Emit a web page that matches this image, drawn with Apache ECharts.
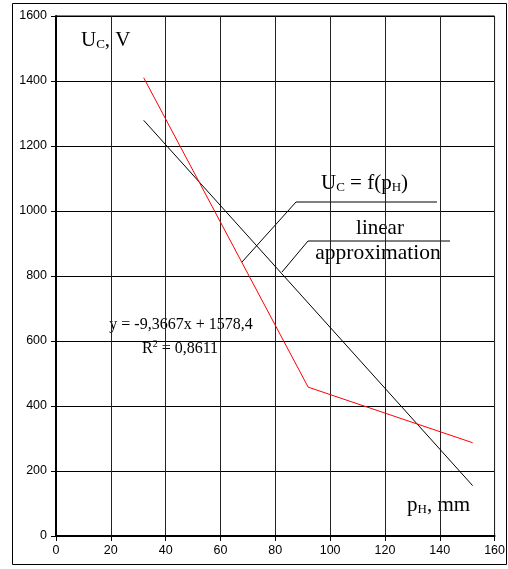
<!DOCTYPE html>
<html><head><meta charset="utf-8">
<script src="https://cdn.jsdelivr.net/npm/echarts@6/dist/echarts.min.js"></script>
<style>html,body{margin:0;padding:0;background:#fff}#c{width:508px;height:569px}</style>
</head><body><div id="c"></div>
<script>
const xTicks = [0, 20, 40, 60, 80, 100, 120, 140, 160];
const yTicks = [0, 200, 400, 600, 800, 1000, 1200, 1400, 1600];
const measuredX = [32, 92, 152];
const measuredY = [1410, 458, 287];
const linearX = [32, 152];
const linearY = [1279, 155];

const serif = '"Liberation Serif","Times New Roman",serif';
const sans = '"Liberation Sans",Arial,sans-serif';
const chart = echarts.init(document.getElementById('c'), null, {renderer: 'canvas'});
chart.setOption({
  animation: false,
  backgroundColor: '#fff',
  grid: {left: 56, right: 12, top: 16, bottom: 33, show: true, borderColor: '#000', borderWidth: 1},
  xAxis: {
    type: 'value', min: xTicks[0], max: xTicks[xTicks.length - 1], interval: 20,
    axisLine: {lineStyle: {color: '#000', width: 2}},
    axisTick: {show: true, length: 5, lineStyle: {color: '#000'}},
    axisLabel: {color: '#000', fontSize: 12.5, fontFamily: sans, margin: 8, formatter: v => String(v)},
    splitLine: {show: true, lineStyle: {color: '#222', width: 1}}
  },
  yAxis: {
    type: 'value', min: yTicks[0], max: yTicks[yTicks.length - 1], interval: 200,
    axisLine: {show: true, lineStyle: {color: '#000', width: 2}},
    axisTick: {show: true, length: 5, lineStyle: {color: '#000'}},
    axisLabel: {color: '#000', fontSize: 12.5, fontFamily: sans, margin: 9, formatter: v => String(v)},
    splitLine: {show: true, lineStyle: {color: '#000', width: 1}}
  },
  series: [
    {type: 'line', data: measuredX.map((x, i) => [x, measuredY[i]]), symbol: 'none',
     lineStyle: {color: '#ff0000', width: 1}, z: 3},
    {type: 'line', data: linearX.map((x, i) => [x, linearY[i]]), symbol: 'none',
     lineStyle: {color: '#000', width: 1}, z: 2}
  ],
  graphic: [
    {type: 'rect', shape: {x: 12.5, y: 3.5, width: 494, height: 561}, style: {fill: null, stroke: '#000', lineWidth: 1}, z: -1, silent: true},
    {type: 'text', left: 81, top: 30, style: {rich: {b: {fontFamily: serif, fontSize: 21, fill: '#000'}, s: {fontFamily: serif, fontSize: 13, fill: '#000', padding: [8, 0, 0, 0]}}, text: '{b|U}{s|C}{b|, V}'}},
    {type: 'text', left: 321, top: 173, style: {rich: {b: {fontFamily: serif, fontSize: 21, fill: '#000'}, s: {fontFamily: serif, fontSize: 13, fill: '#000', padding: [8, 0, 0, 0]}}, text: '{b|U}{s|C}{b| = f(p}{s|H}{b|)}'}},
    {type: 'polyline', shape: {points: [[242, 262], [296, 202], [437, 202]]}, style: {stroke: '#000', lineWidth: 1, fill: null}},
    {type: 'text', x: 380, y: 228, style: {text: 'linear', fontFamily: serif, fontSize: 21, fill: '#000', align: 'center', verticalAlign: 'middle'}},
    {type: 'polyline', shape: {points: [[282, 272], [308, 241], [450, 241]]}, style: {stroke: '#000', lineWidth: 1, fill: null}},
    {type: 'text', x: 378, y: 253, style: {text: 'approximation', fontFamily: serif, fontSize: 21.5, fill: '#000', align: 'center', verticalAlign: 'middle'}},
    {type: 'text', x: 181, y: 325, style: {text: 'y = -9,3667x + 1578,4', fontFamily: serif, fontSize: 16, fill: '#000', align: 'center', verticalAlign: 'middle'}},
    {type: 'text', left: 142, top: 339, style: {rich: {b: {fontFamily: serif, fontSize: 16, fill: '#000'}, p: {fontFamily: serif, fontSize: 10, fill: '#000', padding: [0, 0, 9, 0]}}, text: '{b|R}{p|2}{b| = 0,8611}'}},
    {type: 'text', left: 407, top: 495, style: {rich: {b: {fontFamily: serif, fontSize: 21, fill: '#000'}, s: {fontFamily: serif, fontSize: 13, fill: '#000', padding: [8, 0, 0, 0]}}, text: '{b|p}{s|H}{b|, mm}'}}
  ]
});
</script></body></html>
